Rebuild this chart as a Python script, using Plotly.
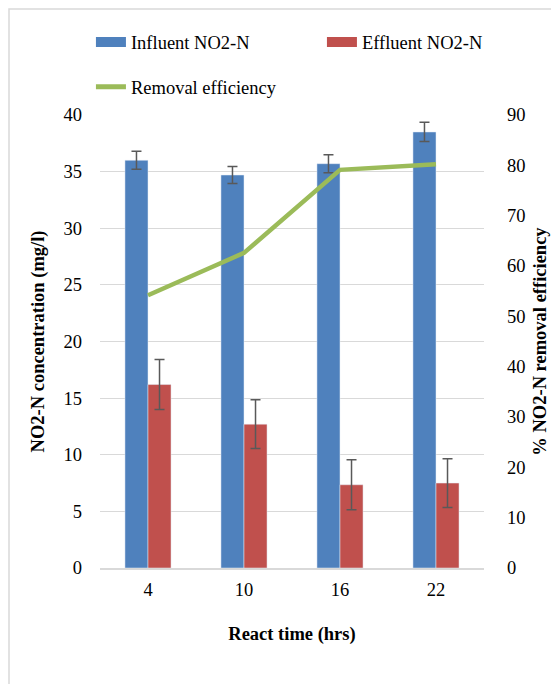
import plotly.graph_objects as go

categories = ["4", "10", "16", "22"]
influent = [36.0, 34.7, 35.7, 38.5]
influent_err = [0.8, 0.75, 0.8, 0.85]
effluent = [16.2, 12.7, 7.35, 7.5]
effluent_err = [2.2, 2.15, 2.2, 2.15]
removal = [54.2, 62.6, 79.1, 80.2]

BLUE = "#4F81BD"
RED = "#C0504D"
GREEN = "#9BBB59"
FONT = "Liberation Serif, Times New Roman, Times, DejaVu Serif, serif"
FS = 18.5

fig = go.Figure()
fig.add_trace(go.Bar(x=categories, y=influent, marker_color=BLUE, showlegend=False,
                     error_y=dict(type="data", array=influent_err, color="#595959", thickness=1.5, width=5),
                     yaxis="y"))
fig.add_trace(go.Bar(x=categories, y=effluent, marker_color=RED, showlegend=False,
                     error_y=dict(type="data", array=effluent_err, color="#595959", thickness=1.5, width=5),
                     yaxis="y"))
fig.add_trace(go.Scatter(x=categories, y=removal, mode="lines", line=dict(color=GREEN, width=4.5),
                         showlegend=False, yaxis="y2"))
# legend entries
fig.add_trace(go.Scatter(x=[None], y=[None], mode="lines", line=dict(color=BLUE, width=10),
                         name="Influent NO2-N", legend="legend"))
fig.add_trace(go.Scatter(x=[None], y=[None], mode="lines", line=dict(color=RED, width=10),
                         name="Effluent NO2-N", legend="legend"))
fig.add_trace(go.Scatter(x=[None], y=[None], mode="lines", line=dict(color=GREEN, width=5),
                         name="Removal efficiency", legend="legend2"))

leg_font = dict(family=FONT, size=FS, color="#000000")
fig.update_layout(
    width=551, height=676,
    margin=dict(l=92, r=75, t=107, b=116, autoexpand=False),
    paper_bgcolor="white", plot_bgcolor="white",
    font=dict(family=FONT, size=FS, color="#000000"),
    barmode="group", bargap=0.52, bargroupgap=0,
    showlegend=True,
    legend=dict(orientation="h", x=-0.0236, xanchor="left", y=1.202, yanchor="top",
                entrywidth=186, entrywidthmode="pixels",
                font=leg_font, bgcolor="rgba(0,0,0,0)"),
    legend2=dict(orientation="h", x=-0.0236, xanchor="left", y=1.103, yanchor="top",
                 font=leg_font, bgcolor="rgba(0,0,0,0)"),
    xaxis=dict(type="category", showgrid=False, showline=True, linecolor="#d9d9d9", linewidth=2,
               ticks="", ticklabelstandoff=4, tickfont=dict(family=FONT, size=FS, color="#000000"),
               title=dict(text="<b>React time (hrs)</b>", font=dict(family=FONT, size=FS, color="#000000"), standoff=28)),
    yaxis=dict(range=[0, 40], dtick=5, showgrid=True, gridcolor="#d9d9d9", gridwidth=1,
               zeroline=False, showline=False, ticks="", ticklabelstandoff=17,
               tickfont=dict(family=FONT, size=FS, color="#000000"),
               title=dict(text="<b>NO2-N concentration (mg/l)</b>", font=dict(family=FONT, size=FS, color="#000000"), standoff=14)),
    yaxis2=dict(range=[0, 90], dtick=10, overlaying="y", side="right", showgrid=False,
                zeroline=False, showline=False, ticks="", ticklabelstandoff=22,
                tickfont=dict(family=FONT, size=FS, color="#000000"),
                title=dict(text="<b>% NO2-N removal efficiency</b>", font=dict(family=FONT, size=FS, color="#000000"), standoff=8)),
    shapes=[dict(type="rect", xref="paper", yref="paper",
                 x0=(1 - 92) / 384, x1=(570 - 92) / 384,
                 y0=(560 - 700) / 453, y1=(560 - 1) / 453,
                 line=dict(color="#d9d9d9", width=1.5), fillcolor="rgba(0,0,0,0)", layer="below")],
)

fig.write_html("out.html")
